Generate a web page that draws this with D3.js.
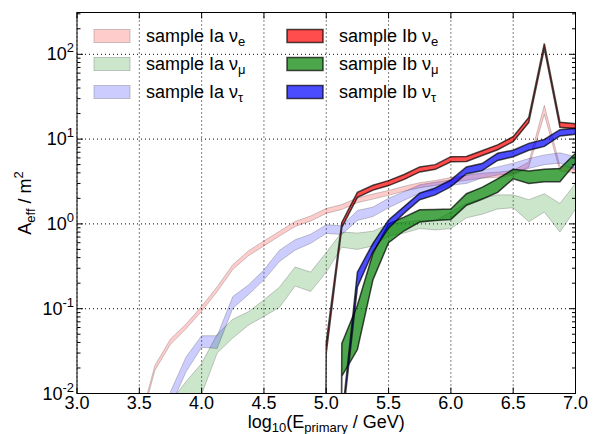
<!DOCTYPE html>
<html><head><meta charset="utf-8">
<script src="https://cdn.jsdelivr.net/npm/d3@7"></script>
<style>
body{margin:0;background:#fff}
svg{display:block}
text{font-family:"Liberation Sans",Arial,sans-serif;fill:#000}
</style>
</head><body>
<svg id="chart" width="599" height="434"></svg>
<script>
// log10(E_primary / GeV) bin positions
const energy = [3.0,3.125,3.25,3.375,3.5,3.625,3.75,3.875,4.0,4.125,4.25,4.375,4.5,4.625,4.75,4.875,5.0,5.125,5.25,5.375,5.5,5.625,5.75,5.875,6.0,6.125,6.25,6.375,6.5,6.625,6.75,6.875,7.0];

// sample Ia (light bands): upper / lower edges, A_eff in m^2
const iaNueHi   = [0,0,0,0,0.0045,0.0214,0.044,0.066,0.107,0.182,0.33,0.48,0.63,0.82,1.07,1.24,1.52,1.69,2.03,2.25,2.48,2.78,3.06,3.25,3.53,3.75,3.96,4.07,4.28,5.35,25,4.8,4.6];
const iaNueLo   = [0,0,0,0,0.0039,0.0187,0.038,0.058,0.093,0.159,0.29,0.42,0.55,0.72,0.93,1.08,1.33,1.48,1.78,1.96,2.17,2.43,2.67,2.84,3.08,3.27,3.46,3.55,3.74,4.67,19.5,4.2,4.0];
const iaNumuHi  = [0,0,0,0,0,0,0.008,0.0138,0.0227,0.05,0.075,0.092,0.127,0.18,0.31,0.27,0.46,0.8,0.78,0.82,1.0,1.05,1.1,1.1,1.38,1.74,2.0,2.2,2.2,1.93,2.27,1.74,3.0];
const iaNumuLo  = [0,0,0,0,0,0,0,0.004,0.0098,0.03,0.045,0.064,0.081,0.104,0.185,0.16,0.27,0.53,0.5,0.55,0.72,0.78,0.88,0.85,0.88,1.18,1.3,1.5,1.55,1.06,1.38,0.8,1.5];
const iaNutauHi = [0,0,0,0,0,0,0.0105,0.027,0.048,0.048,0.139,0.19,0.287,0.49,0.65,0.755,0.98,0.95,1.44,1.58,2.0,2.4,2.9,3.1,3.3,3.76,4.3,4.7,5.2,5.9,6.5,6.9,6.2];
const iaNutauLo = [0,0,0,0,0,0,0.007,0.018,0.035,0.034,0.101,0.146,0.219,0.36,0.49,0.59,0.77,0.75,1.1,1.22,1.55,1.9,2.3,2.5,2.85,3.0,3.47,3.76,3.9,4.5,5.0,5.2,4.3];

// sample Ib (dark bands)
const ibNueHi   = [0,0,0,0,0,0,0,0,0,0,0,0,0,0,0,0,0.04,1.04,2.35,2.86,3.24,3.83,4.7,5.0,6.2,6.25,7.3,8.55,10.7,18,134,15.8,15.2];
const ibNueLo   = [0,0,0,0,0,0,0,0,0,0,0,0,0,0,0,0,0.03,0.91,2.06,2.5,2.83,3.35,4.1,4.4,5.4,5.45,6.4,7.5,9.35,15.7,117,13.8,13.3];
const ibNumuHi  = [0,0,0,0,0,0,0,0,0,0,0,0,0,0,0,0,0,0.039,0.11,0.45,1.0,1.2,1.47,1.48,1.5,2.27,2.7,3.4,4.4,4.2,4.4,4.5,6.8];
const ibNumuLo  = [0,0,0,0,0,0,0,0,0,0,0,0,0,0,0,0,0,0.016,0.033,0.22,0.6,0.83,1.05,1.1,1.13,1.66,1.95,2.35,3.4,3.0,3.15,3.15,5.2];
const ibNutauHi = [0,0,0,0,0,0,0,0,0,0,0,0,0,0,0,0,0,0.005,0.27,0.59,1.11,1.6,2.31,2.65,3.3,4.7,5.15,6.8,7.4,8.9,9.9,12.9,13.4];
const ibNutauLo = [0,0,0,0,0,0,0,0,0,0,0,0,0,0,0,0,0,0.004,0.18,0.47,0.89,1.34,1.93,2.2,2.75,3.9,4.25,5.6,6.2,7.4,8.2,10.9,11.4];

const xTicks = [3.0,3.5,4.0,4.5,5.0,5.5,6.0,6.5,7.0];
const yTickExp = [-2,-1,0,1,2];

const series = [
  {sample:"Ia", flav:"e", color:"#ff0000", hi:iaNueHi, lo:iaNueLo},
  {sample:"Ia", flav:"μ", color:"#008000", hi:iaNumuHi, lo:iaNumuLo},
  {sample:"Ia", flav:"τ", color:"#0000ff", hi:iaNutauHi, lo:iaNutauLo},
  {sample:"Ib", flav:"e", color:"#ff0000", hi:ibNueHi, lo:ibNueLo},
  {sample:"Ib", flav:"μ", color:"#008000", hi:ibNumuHi, lo:ibNumuLo},
  {sample:"Ib", flav:"τ", color:"#0000ff", hi:ibNutauHi, lo:ibNutauLo}
];
const styleFor = s => s.sample === "Ia"
  ? {fo:0.2, so:0.2, sw:1}
  : {fo:0.7, so:0.7, sw:1.5};

const L = 77, R = 575.5, T = 12.5, B = 393.5;
const decadePx = 84.8;
const x = d3.scaleLinear().domain([3, 7]).range([L, R]);
const yTop = Math.pow(10, -2 + (B - T) / decadePx);
const y = d3.scaleLog().domain([0.01, yTop]).range([B, T]);
const FLOOR = 1e-30;
const yy = v => y(Math.max(v, FLOOR));

const svg = d3.select("#chart");
svg.append("defs").append("clipPath").attr("id","clip")
  .append("rect").attr("x",L).attr("y",T).attr("width",R-L).attr("height",B-T);

// grid
const grid = svg.append("g");
xTicks.forEach(t => grid.append("line").attr("x1",x(t)).attr("x2",x(t)).attr("y1",T).attr("y2",B)
  .attr("stroke","#000").attr("stroke-width",1).attr("stroke-dasharray","1,3"));
yTickExp.forEach(e => grid.append("line").attr("x1",L).attr("x2",R).attr("y1",y(Math.pow(10,e))).attr("y2",y(Math.pow(10,e)))
  .attr("stroke","#000").attr("stroke-width",1).attr("stroke-dasharray","1,3"));

// bands
const plot = svg.append("g").attr("clip-path","url(#clip)");
series.forEach(s => {
  const st = styleFor(s);
  const area = d3.area()
    .x((d,i) => x(energy[i]))
    .y0((d,i) => yy(s.lo[i]))
    .y1((d,i) => yy(s.hi[i]));
  plot.append("path").attr("d", area(energy))
    .attr("fill", s.color).attr("fill-opacity", st.fo)
    .attr("stroke", "#000").attr("stroke-opacity", st.so).attr("stroke-width", st.sw)
    .attr("stroke-linejoin","miter");
});

// frame
svg.append("rect").attr("x",L).attr("y",T).attr("width",R-L).attr("height",B-T)
  .attr("fill","none").attr("stroke","#000").attr("stroke-width",1);

// ticks (inside, all four sides)
const tk = svg.append("g").attr("stroke","#000").attr("stroke-width",1);
xTicks.forEach(t => {
  tk.append("line").attr("x1",x(t)).attr("x2",x(t)).attr("y1",B).attr("y2",B-6);
  tk.append("line").attr("x1",x(t)).attr("x2",x(t)).attr("y1",T).attr("y2",T+6);
});
yTickExp.forEach(e => {
  for (let m = 1; m <= 9; m++) {
    const v = m * Math.pow(10, e);
    if (v < 0.01 || v > yTop) continue;
    const len = m === 1 ? 6 : 3.5;
    tk.append("line").attr("x1",L).attr("x2",L+len).attr("y1",y(v)).attr("y2",y(v));
    tk.append("line").attr("x1",R).attr("x2",R-len).attr("y1",y(v)).attr("y2",y(v));
  }
});

// x tick labels
xTicks.forEach(t => svg.append("text").attr("x",x(t)).attr("y",B+15)
  .attr("text-anchor","middle").attr("font-size",18).text(t.toFixed(1)));

// y tick labels
yTickExp.forEach(e => {
  const tx = svg.append("text").attr("x",L-3).attr("y",y(Math.pow(10,e))+6)
    .attr("text-anchor","end").attr("font-size",18);
  tx.append("tspan").text("10");
  tx.append("tspan").attr("dy",-8).attr("font-size",13).text(String(e));
});

// axis labels
const xl = svg.append("text").attr("x",(L+R)/2).attr("y",428).attr("text-anchor","middle").attr("font-size",18);
xl.append("tspan").text("log");
xl.append("tspan").attr("dy",4).attr("font-size",13).text("10");
xl.append("tspan").attr("dy",-4).text("(E");
xl.append("tspan").attr("dy",4).attr("font-size",13).text("primary");
xl.append("tspan").attr("dy",-4).text(" / GeV)");

const yl = svg.append("text").attr("transform",`translate(31,${(T+B)/2}) rotate(-90)`)
  .attr("text-anchor","middle").attr("font-size",18);
yl.append("tspan").text("A");
yl.append("tspan").attr("dy",4).attr("font-size",13).text("eff");
yl.append("tspan").attr("dy",-4).text(" / m");
yl.append("tspan").attr("dy",-8).attr("font-size",13).text("2");

// legend
const legX = [94, 287], legY0 = 36, legDy = 28;
series.forEach((s, i) => {
  const col = s.sample === "Ia" ? 0 : 1;
  const row = i % 3;
  const st = styleFor(s);
  const cy = legY0 + row * legDy;
  svg.append("rect").attr("x",legX[col]).attr("y",cy-6.5).attr("width",36).attr("height",13)
    .attr("fill",s.color).attr("fill-opacity",st.fo)
    .attr("stroke","#000").attr("stroke-opacity",st.so).attr("stroke-width",st.sw);
  const t = svg.append("text").attr("x",legX[col]+52).attr("y",cy+6).attr("font-size",18);
  t.append("tspan").text(`sample ${s.sample} ν`);
  t.append("tspan").attr("dy",4).attr("font-size",13).text(s.flav);
});
</script>
</body></html>
